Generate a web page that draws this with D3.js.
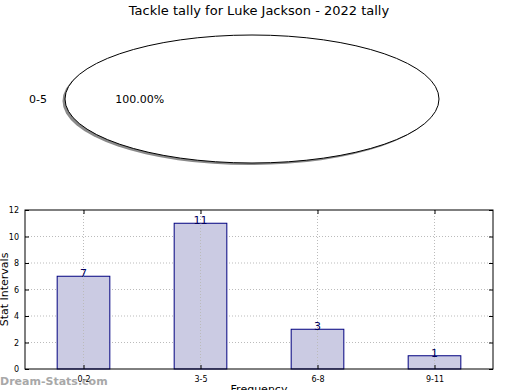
<!DOCTYPE html>
<html>
<head>
<meta charset="utf-8">
<script src="https://cdn.jsdelivr.net/npm/d3@7"></script>
<style>
  body { margin: 0; background: #fff; }
  text { font-family: "DejaVu Sans", sans-serif; }
</style>
</head>
<body>
<script>
var w = 520;
var h = 390;

// pie data
var pieLabels = ['0-5'];
var pieValues = [100];

// bar data
var categories = ['0-2', '3-5', '6-8', '9-11'];
var counts = [7, 11, 3, 1];
var yTicks = [0, 2, 4, 6, 8, 10, 12];

var svg = d3.select('body')
  .append('svg')
  .attr('width', w)
  .attr('height', h);

svg.append('rect')
  .attr('width', w)
  .attr('height', h)
  .attr('fill', '#fff');

svg.append('text')
  .attr('x', 259)
  .attr('y', 15)
  .attr('text-anchor', 'middle')
  .style('font-size', '13px')
  .text('Tackle tally for Luke Jackson - 2022 tally');

// pie, squashed into an ellipse
var cx = 252, cy = 99, rx = 187, ry = 64;
var pie = d3.pie().sort(null)(pieValues);
var arc = d3.arc().innerRadius(0).outerRadius(1);

var pg = svg.append('g');
pg.append('ellipse')
  .attr('cx', cx - 2.5)
  .attr('cy', cy + 2)
  .attr('rx', rx)
  .attr('ry', ry)
  .attr('fill', '#8a8a8a');

pg.selectAll('path.slice')
  .data(pie)
  .enter()
  .append('path')
  .attr('class', 'slice')
  .attr('transform', 'translate(' + cx + ',' + cy + ') scale(' + rx + ',' + ry + ')')
  .attr('d', arc)
  .attr('fill', '#fff')
  .attr('stroke', '#000')
  .attr('vector-effect', 'non-scaling-stroke')
  .style('stroke-width', '1px');

pg.selectAll('text.lab')
  .data(pie)
  .enter()
  .append('text')
  .attr('class', 'lab')
  .attr('x', cx - rx * 1.1 * 1.04)
  .attr('y', cy + 4)
  .attr('text-anchor', 'middle')
  .style('font-size', '11px')
  .text(function (d, i) { return pieLabels[i]; });

pg.selectAll('text.pct')
  .data(pie)
  .enter()
  .append('text')
  .attr('class', 'pct')
  .attr('x', cx - rx * 0.6)
  .attr('y', cy + 4)
  .attr('text-anchor', 'middle')
  .style('font-size', '11px')
  .text(function (d) { return (d.value / d3.sum(pieValues) * 100).toFixed(2) + '%'; });

// bar chart
var pLeft = 25, pRight = 493, pTop = 210, pBottom = 369;

var x = d3.scaleBand()
  .domain(categories)
  .range([pLeft, pRight])
  .paddingInner(0.55)
  .paddingOuter(0.275);

var xc = d3.scalePoint()
  .domain(categories)
  .range([pLeft, pRight])
  .padding(0.5);

var y = d3.scaleLinear()
  .domain([0, 12])
  .range([pBottom, pTop]);

var g = svg.append('g');

// grid
g.selectAll('line.hgrid')
  .data(yTicks.slice(1, -1))
  .enter()
  .append('line')
  .attr('x1', pLeft).attr('x2', pRight)
  .attr('y1', function (d) { return y(d); })
  .attr('y2', function (d) { return y(d); })
  .attr('stroke', '#bbb')
  .attr('stroke-dasharray', '1,2');

g.selectAll('rect.bar')
  .data(counts)
  .enter()
  .append('rect')
  .attr('class', 'bar')
  .attr('x', function (d, i) { return x(categories[i]); })
  .attr('y', function (d) { return y(d); })
  .attr('width', x.bandwidth())
  .attr('height', function (d) { return pBottom - y(d); })
  .attr('fill', '#cbcbe3')
  .attr('stroke', '#000080')
  .attr('stroke-width', 1);

g.selectAll('line.vgrid')
  .data(categories)
  .enter()
  .append('line')
  .attr('x1', function (d) { return xc(d); })
  .attr('x2', function (d) { return xc(d); })
  .attr('y1', pTop).attr('y2', pBottom)
  .attr('stroke', '#bbb')
  .attr('stroke-dasharray', '1,2');

g.selectAll('text.val')
  .data(counts)
  .enter()
  .append('text')
  .attr('class', 'val')
  .attr('x', function (d, i) { return xc(categories[i]); })
  .attr('y', function (d) { return y(d) + 1; })
  .attr('text-anchor', 'middle')
  .attr('fill', '#000060')
  .style('font-size', '11px')
  .text(function (d) { return d; });

// axes
var yAxis = d3.axisLeft(y).tickValues(yTicks).tickSize(-4).tickPadding(6);
var ya = g.append('g').attr('transform', 'translate(' + pLeft + ',0)').call(yAxis);
ya.select('.domain').remove();
ya.selectAll('text').style('font-size', '8px').style('font-family', 'DejaVu Sans');

var ya2 = g.append('g').attr('transform', 'translate(' + pRight + ',0)')
  .call(d3.axisRight(y).tickValues(yTicks).tickSize(-4).tickFormat(''));
ya2.select('.domain').remove();

var xAxis = d3.axisBottom(xc).tickSize(-4).tickPadding(7);
var xa = g.append('g').attr('transform', 'translate(0,' + pBottom + ')').call(xAxis);
xa.select('.domain').remove();
xa.selectAll('text').style('font-size', '8px').style('font-family', 'DejaVu Sans');

var xa2 = g.append('g').attr('transform', 'translate(0,' + pTop + ')')
  .call(d3.axisTop(xc).tickSize(-4).tickFormat(''));
xa2.select('.domain').remove();

g.append('rect')
  .attr('x', pLeft).attr('y', pTop)
  .attr('width', pRight - pLeft).attr('height', pBottom - pTop)
  .attr('fill', 'none')
  .attr('stroke', '#000');

svg.append('text')
  .attr('transform', 'translate(8,' + ((pTop + pBottom) / 2) + ') rotate(-90)')
  .attr('text-anchor', 'middle')
  .style('font-size', '11px')
  .text('Stat Intervals');

svg.append('text')
  .attr('x', 259)
  .attr('y', 393)
  .attr('text-anchor', 'middle')
  .style('font-size', '11px')
  .text('Frequency');

svg.append('text')
  .attr('x', 0)
  .attr('y', 385)
  .attr('fill', '#999')
  .attr('opacity', 0.85)
  .style('font-size', '11px')
  .style('font-weight', 'bold')
  .text('Dream-Stats.com');
</script>
</body>
</html>
